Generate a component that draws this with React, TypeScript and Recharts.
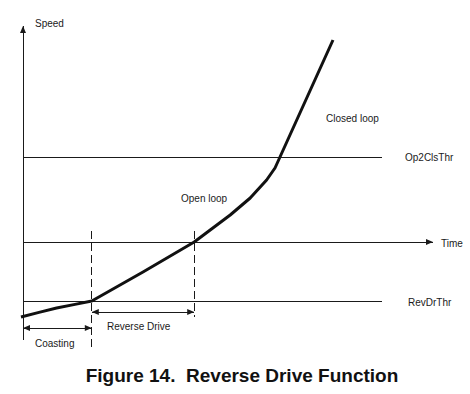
import React from 'react';
import { LineChart, Line, XAxis, YAxis, ReferenceLine, ReferenceDot } from 'recharts';

// time / speed in arbitrary units
const curveTime = [-0.05, 0.4, 0.84, 1.3, 1.72, 3.0, 4.28, 4.68, 5.18, 5.68, 6.09, 6.3, 7.75];
const curveSpeed = [-3.75, -3.52, -3.3, -3.12, -2.95, -1.5, 0, 0.6, 1.35, 2.2, 3.1, 3.7, 10.1];

const OP2CLS_THR = 4.25;
const REVDR_THR = -2.95;
const COAST_END = 1.72;
const REVDRIVE_END = 4.28;

const labelTexts = ['Speed', 'Time', 'Op2ClsThr', 'RevDrThr', 'Closed loop', 'Open loop', 'Reverse Drive', 'Coasting'];
const labelTime = [0.3, 10.45, 9.55, 9.625, 7.575, 3.95, 2.1, 0.3];
const labelSpeed = [10.95, -0.05, 4.25, -3.0, 6.2, 2.2, -4.2, -5.05];

const curveData = curveTime.map((t, i) => ({ t, speed: curveSpeed[i] }));

const INK = '#1a1a1a';
const FONT = '"Liberation Sans", Arial, sans-serif';

const head = (x: number, y: number, ux: number, uy: number) => {
  const L = 7;
  const W = 3;
  const bx = x - ux * L;
  const by = y - uy * L;
  return `${x},${y} ${bx - uy * W},${by + ux * W} ${bx + uy * W},${by - ux * W}`;
};

const arrowLine = (ends: 'none' | 'end' | 'both', dash?: string) => (p: any) => {
  const { x1, y1, x2, y2 } = p;
  const len = Math.hypot(x2 - x1, y2 - y1) || 1;
  const ux = (x2 - x1) / len;
  const uy = (y2 - y1) / len;
  return (
    <g>
      <line
        x1={x1}
        y1={y1}
        x2={x2}
        y2={y2}
        stroke={INK}
        strokeWidth={1}
        strokeDasharray={dash}
        shapeRendering="crispEdges"
      />
      {ends !== 'none' && <polygon points={head(x2, y2, ux, uy)} fill={INK} />}
      {ends === 'both' && <polygon points={head(x1, y1, -ux, -uy)} fill={INK} />}
    </g>
  );
};

const textShape = (text: string) => (p: any) => (
  <text x={p.cx} y={p.cy} dominantBaseline="central" fontSize={10} fontFamily={FONT} fill="#1a1a1a">
    {text}
  </text>
);

export default function App() {
  return (
    <div style={{ position: 'absolute', left: 0, top: 0, width: 470, height: 394, background: '#fff' }}>
      <LineChart width={470} height={394} data={curveData} margin={{ top: 20, left: 3, right: 27, bottom: 34 }}>
        <XAxis type="number" dataKey="t" domain={[-0.5, 10.5]} hide allowDataOverflow />
        <YAxis type="number" domain={[-5.9, 11.1]} hide allowDataOverflow />

        {/* axes */}
        <ReferenceLine segment={[{ x: 0, y: -4.9 }, { x: 0, y: 10.8 }]} shape={arrowLine('end')} ifOverflow="visible" />
        <ReferenceLine segment={[{ x: 0, y: 0 }, { x: 10.25, y: 0 }]} shape={arrowLine('end')} ifOverflow="visible" />

        {/* thresholds */}
        <ReferenceLine segment={[{ x: 0, y: OP2CLS_THR }, { x: 8.975, y: OP2CLS_THR }]} shape={arrowLine('none')} ifOverflow="visible" />
        <ReferenceLine segment={[{ x: 0, y: REVDR_THR }, { x: 8.975, y: REVDR_THR }]} shape={arrowLine('none')} ifOverflow="visible" />

        {/* phase markers */}
        <ReferenceLine segment={[{ x: COAST_END, y: 0.55 }, { x: COAST_END, y: -5.4 }]} shape={arrowLine('none', '8 4')} ifOverflow="visible" />
        <ReferenceLine segment={[{ x: REVDRIVE_END, y: 0.55 }, { x: REVDRIVE_END, y: -3.75 }]} shape={arrowLine('none', '8 4')} ifOverflow="visible" />
        <ReferenceLine segment={[{ x: 0, y: -4.3 }, { x: COAST_END, y: -4.3 }]} shape={arrowLine('both')} ifOverflow="visible" />
        <ReferenceLine segment={[{ x: COAST_END, y: -3.5 }, { x: REVDRIVE_END, y: -3.5 }]} shape={arrowLine('both')} ifOverflow="visible" />

        <Line type="linear" dataKey="speed" stroke="#111" strokeWidth={3} dot={false} isAnimationActive={false} strokeLinejoin="round" />

        {labelTexts.map((txt, i) => (
          <ReferenceDot key={txt} x={labelTime[i]} y={labelSpeed[i]} r={0} shape={textShape(txt)} ifOverflow="visible" />
        ))}
      </LineChart>
      <div
        style={{
          position: 'absolute',
          top: 366,
          left: 0,
          width: 484,
          textAlign: 'center',
          fontFamily: FONT,
          fontWeight: 'bold',
          fontSize: 19,
          lineHeight: '19px',
          whiteSpace: 'pre',
          color: '#111',
        }}
      >
        Figure 14.  Reverse Drive Function
      </div>
    </div>
  );
}
